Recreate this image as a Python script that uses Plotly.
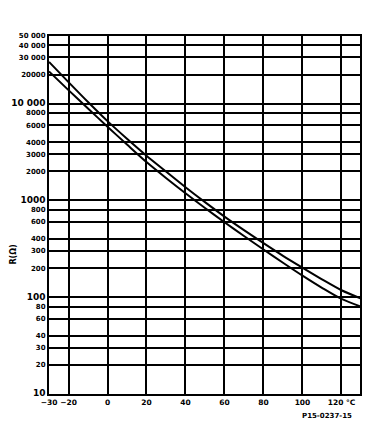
import plotly.graph_objects as go

# Temperature (°C)
temps = [-30, -20, -10, 0, 10, 20, 30, 40, 50, 60, 70, 80, 90, 100, 110, 120, 130]
# Upper tolerance curve R (Ω)
r_upper = [27000, 16700, 10400, 6600, 4340, 2900, 1990, 1370, 960, 680, 493, 362, 268, 202, 153, 118, 97]
# Lower tolerance curve R (Ω)
r_lower = [21500, 13800, 8900, 5780, 3780, 2490, 1705, 1185, 835, 596, 429, 311, 227, 167, 125, 96, 80]

# Axis ticks
x_tick_vals = [-30, -20, 0, 20, 40, 60, 80, 100, 120]
x_tick_text = ["−30", "−20", "0", "20", "40", "60", "80", "100", "120 °C"]
y_tick_vals = [10, 20, 30, 40, 60, 80, 100, 200, 300, 400, 600, 800,
               1000, 2000, 3000, 4000, 6000, 8000, 10000, 20000, 30000, 40000, 50000]
y_tick_labels = ["10", "20", "30", "40", "60", "80", "100", "200", "300", "400", "600", "800",
                 "1000", "2000", "3000", "4000", "6000", "8000", "10 000", "20000", "30 000", "40 000", "50 000"]
decades = [10, 100, 1000, 10000]

FONT = "DejaVu Sans"

y_tick_text = []
for v, t in zip(y_tick_vals, y_tick_labels):
    if v in decades:
        y_tick_text.append(f"<span style='font-size:9px'>{t}</span>")
    else:
        y_tick_text.append(f"<span style='font-size:7px'>{t}</span>")

fig = go.Figure()
for r in (r_upper, r_lower):
    fig.add_trace(go.Scatter(
        x=temps, y=r, mode="lines",
        line=dict(color="black", width=2, shape="spline", smoothing=0.8),
        showlegend=False, hoverinfo="skip"))

fig.update_xaxes(
    range=[-30, 129.5],
    tickvals=x_tick_vals, ticktext=x_tick_text,
    tickfont=dict(family=FONT, size=7.5, color="black", weight="bold"),
    showgrid=True, gridcolor="black", gridwidth=1.8,
    showline=True, linecolor="black", linewidth=2, mirror=True,
    ticks="", zeroline=False, automargin=False,
)
fig.update_yaxes(
    type="log", range=[1, 4.69897],
    tickvals=y_tick_vals, ticktext=y_tick_text,
    tickfont=dict(family=FONT, size=7, color="black", weight="bold"),
    showgrid=True, gridcolor="black", gridwidth=1.8,
    showline=True, linecolor="black", linewidth=2, mirror=True,
    ticks="", zeroline=False, automargin=False,
)

fig.add_annotation(
    text="R(Ω)", xref="paper", yref="paper", x=-0.115, y=0.39,
    xanchor="center", yanchor="middle",
    textangle=-90, showarrow=False,
    font=dict(family=FONT, size=8, color="black", weight="bold"))
fig.add_annotation(
    text="P15-0237-15", xref="paper", yref="paper", x=0.894, y=-0.046,
    xanchor="center", yanchor="top", showarrow=False,
    font=dict(family=FONT, size=7, color="black", weight="bold"))

# page body has an 8px default margin; margins compensate so the plot lands where the reference has it
fig.update_layout(
    width=371, height=431,
    margin=dict(l=41, r=19, t=28, b=44.5),
    paper_bgcolor="white", plot_bgcolor="white",
)

fig.write_html("out.html")
